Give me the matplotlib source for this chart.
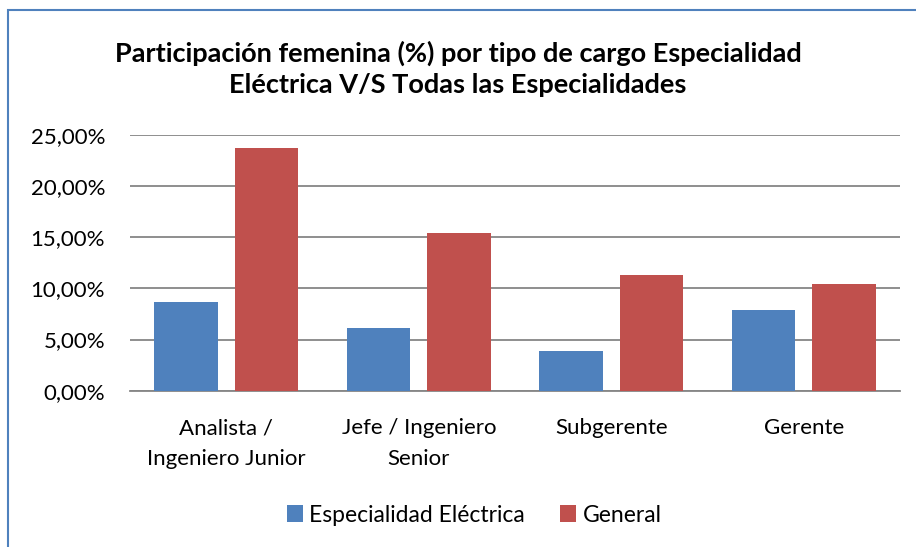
import matplotlib
matplotlib.use("Agg")
import matplotlib.pyplot as plt
from matplotlib.patches import Rectangle
from matplotlib.ticker import FuncFormatter
import numpy as np

categories = ["Analista /\nIngeniero Junior", "Jefe / Ingeniero\nSenior", "Subgerente", "Gerente"]
electrica = [0.0864, 0.0616, 0.0388, 0.0789]
general = [0.2372, 0.1538, 0.1128, 0.1040]
series_names = ["Especialidad Eléctrica", "General"]
title = "Participación femenina (%) por tipo de cargo Especialidad\nEléctrica V/S Todas las Especialidades"
yticks = [0, 0.05, 0.10, 0.15, 0.20, 0.25]

plt.rcParams['font.family'] = ['Lato', 'DejaVu Sans']

fig = plt.figure(figsize=(9.16, 5.47), dpi=100)
fig.patches.append(Rectangle((8/916, -0.05), 1.0, 1 - 10/547 + 0.05, transform=fig.transFigure,
                             fill=False, edgecolor="#4F81BD", linewidth=1.5, clip_on=False))

ax = fig.add_axes([130/916, 1-390.7/547, 770/916, (390.7-135)/547])
x = np.arange(len(categories))
w = 0.33
ax.bar(x - 0.21, electrica, width=w, color="#4F81BD", label=series_names[0], zorder=3)
ax.bar(x + 0.21, general, width=w, color="#C0504D", label=series_names[1], zorder=3)

ax.set_xlim(-0.5, len(categories) - 0.5)
ax.set_ylim(0, 0.25)
ax.set_yticks(yticks)
ax.yaxis.set_major_formatter(FuncFormatter(lambda v, p: f"{v*100:.2f}%".replace(".", ",")))
ax.grid(axis="y", color="#868686", linewidth=1.3, zorder=0)
for s in ["top", "right", "left"]:
    ax.spines[s].set_visible(False)
ax.spines["bottom"].set_color("#868686")
ax.spines["bottom"].set_linewidth(1.3)
ax.tick_params(axis="both", length=0, labelsize=16, colors="black")
ax.tick_params(axis="y", pad=18)
ax.tick_params(axis="x", pad=20)
ax.set_xticks(x)
ax.set_xticklabels(categories, linespacing=1.65)

fig.text(0.5, 1-69/547, title, ha="center", va="center", fontsize=19.5, fontweight="bold",
         linespacing=1.35)

fig.legend(loc="center", bbox_to_anchor=(474/916, 1-515/547), ncol=2, frameon=False,
           fontsize=16.5, handlelength=0.7, handleheight=0.7, handletextpad=0.3, columnspacing=1.5)

fig.savefig("out.png", dpi=100)
